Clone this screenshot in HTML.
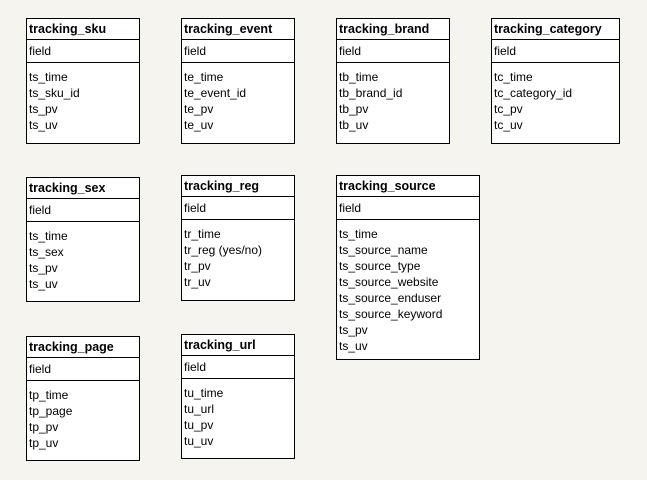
<!DOCTYPE html>
<html><head><style>
body{margin:0;width:647px;height:480px;background:#f6f4ef;position:relative;overflow:hidden;font-family:"Liberation Sans",Arial,sans-serif;font-size:12px;color:#000}
.t{position:absolute;background:#fff;border:1px solid #000;box-sizing:border-box}
.h{height:21px;border-bottom:1px solid #000;font-weight:bold;font-size:12.5px;line-height:20px;padding-left:2px;box-sizing:border-box}
.f{height:23px;border-bottom:1px solid #000;line-height:22px;padding-left:2px;box-sizing:border-box}
.b{padding:6px 0 0 2px;line-height:16px}
</style></head><body>
<div class="t" style="left:26px;top:18px;width:114px;height:126px"><div class="h">tracking_sku</div><div class="f">field</div><div class="b">ts_time<br>ts_sku_id<br>ts_pv<br>ts_uv</div></div>
<div class="t" style="left:181px;top:18px;width:114px;height:126px"><div class="h">tracking_event</div><div class="f">field</div><div class="b">te_time<br>te_event_id<br>te_pv<br>te_uv</div></div>
<div class="t" style="left:336px;top:18px;width:114px;height:126px"><div class="h">tracking_brand</div><div class="f">field</div><div class="b">tb_time<br>tb_brand_id<br>tb_pv<br>tb_uv</div></div>
<div class="t" style="left:491px;top:18px;width:129px;height:126px"><div class="h">tracking_category</div><div class="f">field</div><div class="b">tc_time<br>tc_category_id<br>tc_pv<br>tc_uv</div></div>
<div class="t" style="left:26px;top:177px;width:114px;height:125px"><div class="h">tracking_sex</div><div class="f">field</div><div class="b">ts_time<br>ts_sex<br>ts_pv<br>ts_uv</div></div>
<div class="t" style="left:181px;top:175px;width:114px;height:126px"><div class="h">tracking_reg</div><div class="f">field</div><div class="b">tr_time<br>tr_reg (yes/no)<br>tr_pv<br>tr_uv</div></div>
<div class="t" style="left:336px;top:175px;width:144px;height:185px"><div class="h">tracking_source</div><div class="f">field</div><div class="b">ts_time<br>ts_source_name<br>ts_source_type<br>ts_source_website<br>ts_source_enduser<br>ts_source_keyword<br>ts_pv<br>ts_uv</div></div>
<div class="t" style="left:26px;top:336px;width:114px;height:125px"><div class="h">tracking_page</div><div class="f">field</div><div class="b">tp_time<br>tp_page<br>tp_pv<br>tp_uv</div></div>
<div class="t" style="left:181px;top:334px;width:114px;height:125px"><div class="h">tracking_url</div><div class="f">field</div><div class="b">tu_time<br>tu_url<br>tu_pv<br>tu_uv</div></div>
</body></html>
